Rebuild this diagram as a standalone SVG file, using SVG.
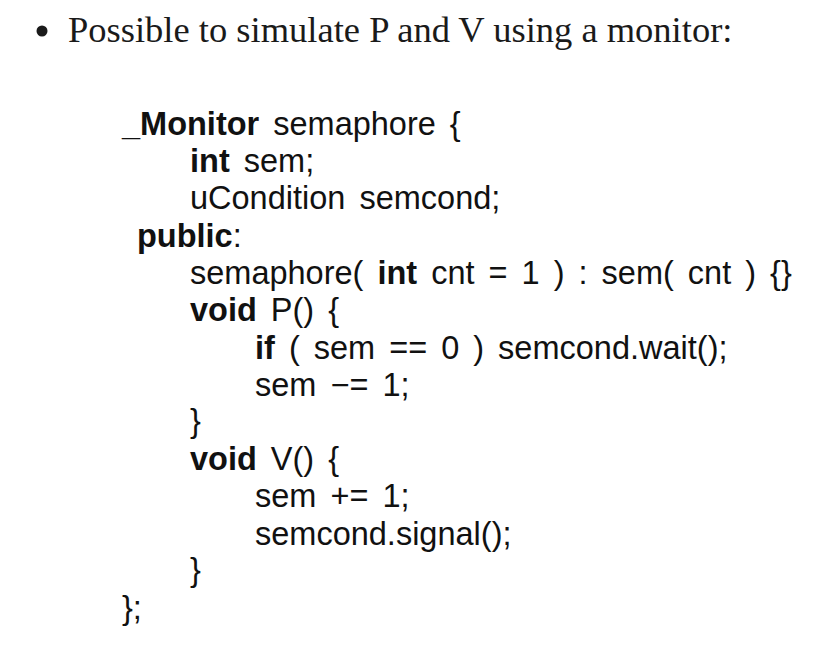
<svg xmlns="http://www.w3.org/2000/svg" width="836" height="672" viewBox="0 0 836 672">
<style>
.t{font-family:"Liberation Serif","Times New Roman",serif;font-size:36.5px;fill:#1a1a1a}
.c{font-family:"Liberation Sans",Arial,sans-serif;font-size:32.5px;word-spacing:5px;fill:#111}
.b{font-weight:bold}
</style>
<rect width="836" height="672" fill="#fff"/>
<g id="title">
<circle cx="42" cy="31" r="5.5" fill="#1a1a1a"/>
<text class="t" x="68" y="42">Possible to simulate P and V using a monitor:</text>
</g>
<g id="code" xml:space="preserve">
<text class="c" x="122" y="135"><tspan class="b">_Monitor</tspan> semaphore {</text>
<text class="c" x="190" y="172"><tspan class="b">int</tspan> sem;</text>
<text class="c" x="190" y="209">uCondition semcond;</text>
<text class="c" x="137" y="247"><tspan class="b">public</tspan>:</text>
<text class="c" x="190" y="284">semaphore( <tspan class="b">int</tspan> cnt = 1 ) : sem( cnt ) {}</text>
<text class="c" x="190" y="321"><tspan class="b">void</tspan> P() {</text>
<text class="c" x="255" y="359"><tspan class="b">if</tspan> ( sem == 0 ) semcond.wait();</text>
<text class="c" x="255" y="396">sem −= 1;</text>
<text class="c" x="190" y="432">}</text>
<text class="c" x="190" y="470"><tspan class="b">void</tspan> V() {</text>
<text class="c" x="255" y="507">sem += 1;</text>
<text class="c" x="255" y="545">semcond.signal();</text>
<text class="c" x="190" y="581">}</text>
<text class="c" x="122" y="619">};</text>
</g>
</svg>
